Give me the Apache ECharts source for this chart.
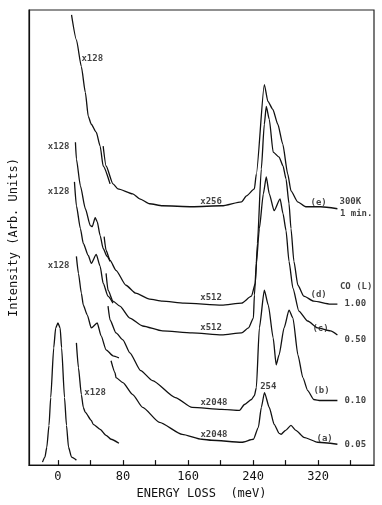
<!DOCTYPE html>
<html><head><meta charset="utf-8">
<script src="https://cdn.jsdelivr.net/npm/echarts@6/dist/echarts.min.js"></script>
<style>html,body{margin:0;padding:0;background:#fff}#c{width:382px;height:505px}</style>
</head><body><div id="c"></div>
<script>
// x: energy loss (meV); y: intensity (arbitrary units, offset curves)
const xTickValues = [0, 40, 80, 120, 160, 200, 240, 280, 320, 360];
const xTickLabels = [0, 80, 160, 240, 320];

const elasticPeak = [[-19,3],[-16,8],[-13.7,18],[-11,40],[-8.9,68],[-5.2,118],[-2.8,138],[0,143],[2.7,138],[4.5,118],[8.1,68],[10.5,40],[13,18],[16.7,8],[22.7,5]];

const curveA_x128 = [[22.7,123],[25.2,98],[28.8,71],[31.2,58],[33.7,53],[41,45],[43.4,41],[51.9,36],[59.2,30],[65.3,26],[75,22]];
const curveA_x2048 = [[65.3,105],[70.2,93],[71.4,88],[79.9,83],[92,71],[104.2,58],[124.9,43],[152.8,31],[177.1,26],[189,25],[225.8,23],[240.4,26],[246.5,38],[250.1,58],[254,73],[259.9,58],[265.9,41],[272,32],[274.4,31],[280,35],[286.6,40],[292.6,35],[302.4,28],[319.4,23],[343.7,21]];

const curveB_x128 = [[22.7,210],[25.2,193],[28.8,173],[31.2,161],[36.1,151],[41,138],[48.3,143],[53.1,130],[59.2,116],[67.7,110],[75,108]];
const curveB_x2048 = [[61.6,160],[64.1,146],[71.4,133],[79.9,126],[88.4,113],[101.8,95],[116.3,85],[144.3,68],[165,58],[201.5,56],[223.3,55],[229.4,61],[238,66],[241.6,70],[244,78],[247.7,138],[253.8,176],[258.7,161],[264.7,128],[268.4,101],[272,111],[278.1,138],[284.2,156],[289,148],[295.1,111],[301.2,88],[307.2,75],[314.5,66],[323,65],[343.7,65]];

const curveC_x128 = [[20.3,285],[22.7,261],[27.6,238],[31.2,223],[37.3,211],[41,203],[47.1,212],[51.9,200],[55.6,183],[61.6,170],[67.7,163]];
const curveC_x512 = [[59.2,193],[61.6,176],[67.7,165],[76.2,160],[88.4,148],[104.2,140],[128.5,135],[165,133],[201.5,131],[225.8,133],[234.3,138],[240.4,148],[241.6,171],[244,203],[247.7,238],[252.6,273],[256.2,290],[259.9,273],[265.9,256],[273.2,268],[276.8,253],[280.5,236],[284.2,205],[289,178],[296.3,155],[307.2,145],[319.4,138],[335.2,135],[343.7,131]];

const curveD_x128 = [[21.5,325],[22.7,308],[27.6,281],[33.7,258],[39.8,241],[42.2,240],[45.8,249],[48.3,245],[51.9,231],[55.6,218],[60.4,210],[64.1,205]];
const curveD_x512 = [[56.8,230],[59.2,216],[64.1,206],[71.4,196],[83.6,181],[95.7,173],[112.7,167],[128.5,165],[155.3,163],[201.5,161],[225.8,163],[238,170],[242.8,183],[245.3,223],[250.1,298],[253.8,343],[256.2,361],[259.9,348],[264.7,315],[272,310],[276.8,301],[280.5,288],[284.2,263],[286.6,238],[290.2,205],[295.1,181],[302.4,170],[314.5,165],[335.2,162],[343.7,162]];

const curveE_x128 = [[16.7,453],[22.7,428],[28.8,401],[33.7,375],[37.3,351],[41,343],[47.1,335],[51.9,321],[55.6,301],[64.1,283]];
const curveE_x256 = [[55.6,321],[59.2,301],[67.7,283],[73.8,278],[92,273],[100.5,268],[112.7,263],[128.5,261],[165,260],[201.5,261],[225.8,265],[231.9,271],[241.6,278],[244,293],[253.8,383],[258.2,366],[264.3,358],[270.4,343],[276.5,323],[282.6,293],[286.6,276],[294.7,265],[304.8,260],[323,260],[343.7,258]];

const annotations = [
  [42.2,409,'x128'],[0.9,320,'x128'],[0.9,275,'x128'],[0.9,201,'x128'],[45.8,73,'x128'],
  [188.3,265,'x256'],[188.3,169,'x512'],[188.3,138,'x512'],[191.9,63,'x2048'],[191.9,31,'x2048'],
  [258.7,79,'254'],
  [320.6,264,'(e)'],[320.6,172,'(d)'],[323,137,'(c)'],[324.2,75,'(b)'],[328,27,'(a)'],
  [359.6,265,'300K'],[366.8,253,'1 min.'],[366.8,180,'CO (L)'],
  [365.6,162,'1.00'],[365.6,126,'0.50'],[365.6,65,'0.10'],[365.6,21,'0.05']
];

const segments = [elasticPeak, curveA_x128, curveA_x2048, curveB_x128, curveB_x2048,
  curveC_x128, curveC_x512, curveD_x128, curveD_x512, curveE_x128, curveE_x256];

const mono = '"DejaVu Sans Mono", monospace';
const chart = echarts.init(document.getElementById('c'), null, {renderer: 'canvas'});
const series = segments.map(d => ({
  type: 'line', data: d, showSymbol: false, symbol: 'none',
  smooth: 0.2, smoothMonotone: 'x',
  lineStyle: {color: '#111', width: 1.3}, silent: true
}));
series.push({
  type: 'scatter', silent: true, symbol: 'circle', symbolSize: 1,
  itemStyle: {color: 'rgba(0,0,0,0)'},
  data: annotations.map(a => ({value: [a[0], a[1]], name: a[2]})),
  label: {show: true, position: 'inside', formatter: '{b}', color: '#111',
    fontFamily: mono, fontSize: 9, fontWeight: 'bold'},
  labelLayout: {hideOverlap: false}
});
chart.setOption({
  animation: false,
  grid: {left: 25, right: 8, top: 10, bottom: 37, show: true, borderColor: '#222', borderWidth: 1.2},
  xAxis: {
    type: 'value', min: -35.6, max: 388.7,
    name: 'ENERGY LOSS  (meV)', nameLocation: 'middle', nameGap: 21,
    nameTextStyle: {fontFamily: mono, fontSize: 12, color: '#111'},
    axisLine: {show: true, onZero: false, lineStyle: {color: '#111', width: 1.2}},
    axisTick: {show: true, inside: true, length: 5, customValues: xTickValues, lineStyle: {color: '#111', width: 1.2}},
    axisLabel: {customValues: xTickLabels, fontFamily: mono, fontSize: 12, color: '#111', margin: 6},
    splitLine: {show: false}
  },
  yAxis: {
    type: 'value', min: 0, max: 458,
    name: 'Intensity (Arb. Units)', nameLocation: 'middle', nameGap: 9,
    nameTextStyle: {fontFamily: mono, fontSize: 12, color: '#111'},
    axisLine: {show: true, onZero: false, lineStyle: {color: '#111', width: 1.2}},
    axisTick: {show: false}, axisLabel: {show: false}, splitLine: {show: false}
  },
  series: series
});
</script>
</body></html>
